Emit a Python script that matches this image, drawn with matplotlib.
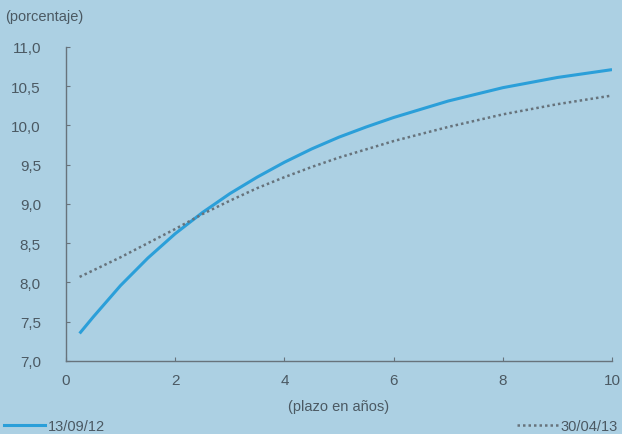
import numpy as np
import matplotlib
matplotlib.use("Agg")
import matplotlib.pyplot as plt
from matplotlib.lines import Line2D

# curvas de tipos (plazo en años -> porcentaje)
plazo_a = [0.25, 0.5, 1.0, 1.5, 2.0, 2.5, 3.0, 3.5, 4.0, 4.5, 5.0, 5.5, 6.0, 7.0, 8.0, 9.0, 10.0]
curva_a = [7.35, 7.56, 7.96, 8.31, 8.62, 8.89, 9.13, 9.34, 9.53, 9.70, 9.85, 9.98, 10.10, 10.31, 10.48, 10.61, 10.71]
plazo_b = [0.25, 1.0, 1.5, 2.0, 2.5, 3.0, 3.5, 4.0, 4.5, 5.0, 6.0, 7.0, 8.0, 9.0, 10.0]
curva_b = [8.07, 8.32, 8.50, 8.68, 8.87, 9.04, 9.20, 9.34, 9.47, 9.59, 9.80, 9.98, 10.14, 10.27, 10.38]
lab_a, lab_b = "13/09/12", "30/04/13"
yticks = [7.0, 7.5, 8.0, 8.5, 9.0, 9.5, 10.0, 10.5, 11.0]
xticks = [0, 2, 4, 6, 8, 10]

bg = "#acd0e3"; azul = "#2b9fd9"; gris = "#67737c"; txt = "#4b5963"
plt.rcParams["font.family"] = ["Liberation Sans", "DejaVu Sans"]
fs = 10.5

fig = plt.figure(figsize=(6.22, 4.35), dpi=100, facecolor=bg)
ax = fig.add_axes([0.106, 0.168, 0.878, 0.722], facecolor=bg)
ax.plot(plazo_a, curva_a, color=azul, lw=2.2, solid_capstyle="butt", solid_joinstyle="round")
ax.plot(plazo_b, curva_b, color=gris, lw=1.8, ls=(0, (1, 1.2)))
ax.set_xlim(0, 10); ax.set_ylim(7, 11)
ax.set_xticks(xticks); ax.set_yticks(yticks)
ax.set_yticklabels([f"{v:.1f}".replace(".", ",") for v in yticks])
for s in ("top", "right"): ax.spines[s].set_visible(False)
for s in ("left", "bottom"): ax.spines[s].set_color(gris); ax.spines[s].set_linewidth(1.0)
ax.tick_params(axis="y", direction="in", length=3, color=gris, labelcolor=txt, labelsize=11, pad=18)
ax.tick_params(axis="x", direction="in", length=3, color=gris, labelcolor=txt, labelsize=11, pad=9)
ax.set_xlabel("(plazo en años)", color=txt, fontsize=fs, labelpad=8)
fig.text(0.008, 0.962, "(porcentaje)", color=txt, fontsize=fs, va="center")

la = Line2D([], [], color=azul, lw=2.2)
lb = Line2D([], [], color=gris, lw=1.8, ls=(0, (1, 1.2)))
kw = dict(frameon=False, fontsize=fs, handlelength=2.8, handletextpad=0.2, borderaxespad=0.1, labelcolor=txt)
fig.legend([la], [lab_a], loc="lower left", bbox_to_anchor=(-0.005, -0.014), **kw)
fig.legend([lb], [lab_b], loc="lower right", bbox_to_anchor=(1.005, -0.014), **kw)

fig.savefig("out.png", dpi=100, facecolor=bg)
